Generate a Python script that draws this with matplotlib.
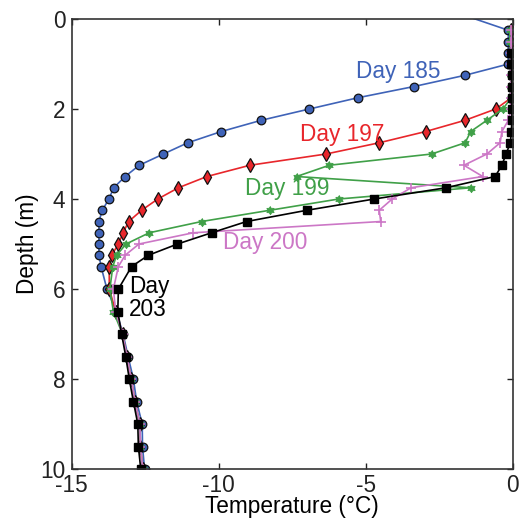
import matplotlib
matplotlib.use("Agg")
import matplotlib.pyplot as plt
import numpy as np

plt.rcParams['font.family'] = ['Liberation Sans', 'DejaVu Sans']

# ---- data (temperature in °C vs depth in m) ----
depth_185 = [-0.25, 0.25, 0.5, 0.75, 1.0, 1.25, 1.5, 1.75, 2.0, 2.25, 2.5, 2.75, 3.0,
             3.25, 3.5, 3.75, 4.0, 4.25, 4.5, 4.75, 5.0, 5.25, 5.5,
             6.0, 6.5, 7.0, 7.5, 8.0, 8.5, 9.0, 9.5, 10.0]
temp_185 = [-2.4, -0.15, -0.15, -0.15, -0.15, -1.62, -3.36, -5.27, -6.92, -8.55, -9.91, -11.05, -11.88,
            -12.70, -13.18, -13.57, -13.73, -13.96, -14.07, -14.07, -14.07, -14.07, -14.00,
            -13.80, -13.48, -13.25, -13.08, -12.90, -12.79, -12.60, -12.59, -12.52]

depth_197 = [0.25, 0.5, 0.75, 1.0, 1.25, 1.5, 1.75, 2.0, 2.25, 2.5, 2.75, 3.0,
             3.25, 3.5, 3.75, 4.0, 4.25, 4.5, 4.75, 5.0, 5.25, 5.5,
             6.0, 6.5, 7.0, 7.5, 8.0, 8.5, 9.0, 9.5, 10.0]
temp_197 = [-0.05, -0.05, -0.05, -0.05, -0.05, -0.05, -0.05, -0.58, -1.62, -2.96, -4.54, -6.35,
            -8.94, -10.40, -11.37, -12.07, -12.62, -13.06, -13.25, -13.41, -13.64, -13.72,
            -13.72, -13.50, -13.27, -13.12, -12.97, -12.85, -12.68, -12.66, -12.58]

depth_199 = [0.25, 0.5, 0.75, 1.0, 1.25, 1.5, 1.75, 2.0, 2.25, 2.5, 2.75, 3.0,
             3.25, 3.5, 3.75, 4.0, 4.25, 4.5, 4.75, 5.0, 5.25, 5.5,
             6.0, 6.5, 7.0, 7.5, 8.0, 8.5, 9.0, 9.5, 10.0]
temp_199 = [-0.10, -0.10, -0.05, -0.05, -0.05, -0.05, -0.05, -0.34, -0.88, -1.43, -1.62, -2.76,
            -6.24, -7.35, -1.43, -5.92, -8.26, -10.58, -12.36, -13.15, -13.47, -13.60,
            -13.70, -13.58, -13.27, -13.12, -12.97, -12.85, -12.68, -12.66, -12.58]

depth_200 = [0.25, 0.5, 0.75, 1.0, 1.25, 1.5, 1.75, 2.0, 2.25, 2.5, 2.75, 3.0,
             3.25, 3.5, 3.75, 4.0, 4.25, 4.5, 4.75, 5.0, 5.25, 5.5,
             6.0, 6.5, 7.0, 7.5, 8.0, 8.5, 9.0, 9.5, 10.0]
temp_200 = [-0.05, -0.05, -0.05, -0.05, -0.05, -0.05, -0.05, -0.05, -0.15, -0.37, -0.43, -0.88,
            -1.66, -1.02, -3.46, -4.10, -4.54, -4.49, -10.86, -12.71, -13.18, -13.41,
            -13.58, -13.50, -13.27, -13.12, -12.97, -12.85, -12.68, -12.66, -12.58]

depth_203 = [0.75, 1.0, 1.25, 1.5, 1.75, 2.0, 2.25, 2.5, 2.75, 3.0,
             3.25, 3.5, 3.75, 4.0, 4.25, 4.5, 4.75, 5.0, 5.25, 5.5,
             6.0, 6.5, 7.0, 7.5, 8.0, 8.5, 9.0, 9.5, 10.0]
temp_203 = [-0.05, -0.05, -0.03, -0.03, -0.03, -0.03, -0.03, -0.05, -0.08, -0.23,
            -0.37, -0.60, -2.27, -4.71, -7.00, -9.05, -10.24, -11.40, -12.39, -12.96,
            -13.41, -13.43, -13.30, -13.16, -13.04, -12.90, -12.75, -12.73, -12.65]

x_ticks = [-15, -10, -5, 0]
y_ticks = [0, 2, 4, 6, 8, 10]

blue = '#3F63B8'
red = '#E8262B'
green = '#40A048'
magenta = '#CC77C6'
black = '#000000'

# six-pointed star (hexagram) marker shape
ang = np.arange(12) * np.pi / 6 + np.pi / 2
rad = np.where(np.arange(12) % 2 == 0, 1.0, 0.62)
hexagram = list(zip(rad * np.cos(ang), rad * np.sin(ang)))

fig = plt.figure(figsize=(5.19, 5.21), dpi=100)
ax = fig.add_axes([0.138, 0.0998, 0.850, 0.8637])

ax.plot(temp_185, depth_185, '-o', color=blue, lw=1.2, ms=6.2,
        mfc=blue, mec='#111111', mew=0.9)
ax.plot(temp_197, depth_197, '-d', color=red, lw=1.2, ms=7.5,
        mfc=red, mec='#111111', mew=0.9)
ax.plot(temp_199, depth_199, '-', color=green, lw=1.2, marker=hexagram, ms=6,
        mfc=green, mec=green, mew=0.6)
ax.plot(temp_200, depth_200, '-+', color=magenta, lw=1.2, ms=7,
        mew=1.2)
ax.plot(temp_203, depth_203, '-s', color=black, lw=1.2, ms=5.5,
        mfc=black, mec=black)

ax.set_xlim(-15, 0)
ax.set_ylim(10, 0)
ax.set_xticks(x_ticks)
ax.set_yticks(y_ticks)
ax.set_xticklabels([str(t) for t in x_ticks])
ax.set_yticklabels([str(t) for t in y_ticks])

fs = 16.3
ax.tick_params(direction='in', top=True, right=True, length=4, width=1.0,
               labelsize=fs, colors='#222222', pad=3.5)
ax.tick_params(axis='y', pad=4.5)
for s in ax.spines.values():
    s.set_linewidth(1.2)
    s.set_color('#333333')

ax.set_xlabel('Temperature (°C)', fontsize=fs, labelpad=-1.5)
ax.set_ylabel('Depth (m)', fontsize=fs, labelpad=1)

ax.text(-3.9, 1.16, 'Day 185', color=blue, fontsize=fs, ha='center', va='center')
ax.text(-5.8, 2.56, 'Day 197', color=red, fontsize=fs, ha='center', va='center')
ax.text(-7.66, 3.76, 'Day 199', color=green, fontsize=fs, ha='center', va='center')
ax.text(-8.41, 4.96, 'Day 200', color=magenta, fontsize=fs, ha='center', va='center')
ax.text(-13.05, 6.2, 'Day\n203', color=black, fontsize=fs, ha='left', va='center',
        linespacing=1.05)

fig.savefig('out.png', dpi=100)
